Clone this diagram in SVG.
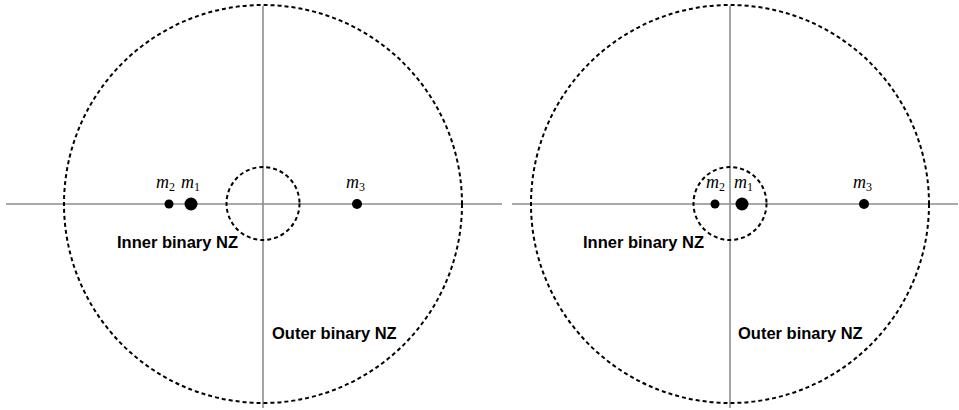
<svg xmlns="http://www.w3.org/2000/svg" width="959" height="410" viewBox="0 0 959 410">
<style>
.ax{stroke:#8c8c8c;stroke-width:1.6;fill:none}
.dc{stroke:#000;stroke-width:2;stroke-dasharray:4,3;fill:none}
.lbl{font-family:"Liberation Sans",Arial,sans-serif;font-weight:bold;font-size:16.5px;fill:#000}
.m{font-family:"Liberation Serif","Times New Roman",serif;font-style:italic;font-size:18px;fill:#000}
.s{font-family:"Liberation Serif","Times New Roman",serif;font-size:12px;fill:#000}
</style>
<g id="connectors">
<line class="ax" x1="6" y1="204" x2="502" y2="204"/>
<line class="ax" x1="263" y1="6" x2="263" y2="408"/>
<line class="ax" x1="512" y1="204" x2="958" y2="204"/>
<line class="ax" x1="730" y1="6" x2="730" y2="408"/>
</g>
<g id="left-outer"><circle class="dc" cx="263" cy="204" r="199"/><text class="lbl" x="272" y="339">Outer binary NZ</text></g>
<g id="left-inner"><circle class="dc" cx="263" cy="203.5" r="36.5"/><text class="lbl" x="117" y="248">Inner binary NZ</text></g>
<g id="left-m2"><circle cx="169" cy="204" r="4.5"/><text class="m" x="156" y="188">m<tspan class="s" dy="3" font-style="normal">2</tspan></text></g>
<g id="left-m1"><circle cx="191" cy="204" r="6.5"/><text class="m" x="181" y="188">m<tspan class="s" dy="3" font-style="normal">1</tspan></text></g>
<g id="left-m3"><circle cx="357" cy="204" r="5"/><text class="m" x="346" y="188">m<tspan class="s" dy="3" font-style="normal">3</tspan></text></g>
<g id="right-outer"><circle class="dc" cx="730" cy="204" r="199"/><text class="lbl" x="738" y="339">Outer binary NZ</text></g>
<g id="right-inner"><circle class="dc" cx="730" cy="203.5" r="36.5"/><text class="lbl" x="583" y="248">Inner binary NZ</text></g>
<g id="right-m2"><circle cx="715" cy="204" r="4.5"/><text class="m" x="706" y="188">m<tspan class="s" dy="3" font-style="normal">2</tspan></text></g>
<g id="right-m1"><circle cx="742" cy="204" r="6.5"/><text class="m" x="734" y="188">m<tspan class="s" dy="3" font-style="normal">1</tspan></text></g>
<g id="right-m3"><circle cx="864" cy="204" r="5"/><text class="m" x="853" y="188">m<tspan class="s" dy="3" font-style="normal">3</tspan></text></g>
</svg>
